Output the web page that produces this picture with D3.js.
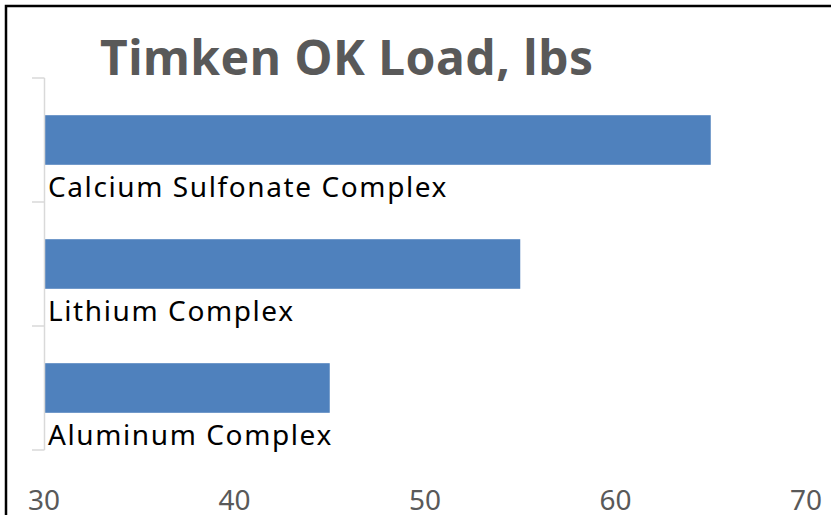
<!DOCTYPE html>
<html>
<head>
<meta charset="utf-8">
<script src="https://cdn.jsdelivr.net/npm/d3@7"></script>
<style>
  body { margin: 0; background: #fff; }
  text { font-family: "Noto Sans", "Open Sans", sans-serif; }
</style>
</head>
<body>
<svg class="chart"></svg>
<script>
var categories = ["Calcium Sulfonate Complex", "Lithium Complex", "Aluminum Complex"];
var values = [65, 55, 45];
var xTicks = [30, 40, 50, 60, 70];

var width = 831, height = 515;

var svg = d3.select(".chart")
    .attr("width", width)
    .attr("height", height);

// outer chart border (runs off right and bottom)
svg.append("rect")
    .attr("x", 6).attr("y", 6)
    .attr("width", width + 20).attr("height", height + 20)
    .attr("fill", "#fff")
    .attr("stroke", "#000")
    .attr("stroke-width", 2.5);

var x = d3.scaleLinear()
    .domain([30, 70])
    .range([44, 806]);

var y = d3.scaleBand()
    .domain(categories)
    .range([78, 450])
    .paddingInner(0.6)
    .paddingOuter(0.3);

// bars
svg.selectAll(".bar")
    .data(categories)
  .enter().append("rect")
    .attr("class", "bar")
    .attr("x", x(30))
    .attr("y", function(d) { return y(d); })
    .attr("width", function(d, i) { return x(values[i]) - x(30); })
    .attr("height", y.bandwidth())
    .attr("fill", "#4F81BD");

// y axis line with ticks on the left
var step = (450 - 78) / categories.length;
var yTicks = d3.range(categories.length + 1).map(function(i) { return 78 + i * step; });
svg.append("line")
    .attr("x1", 44.5).attr("x2", 44.5)
    .attr("y1", 78).attr("y2", 450)
    .attr("stroke", "#d9d9d9").attr("stroke-width", 1.5);
svg.selectAll(".ytick")
    .data(yTicks)
  .enter().append("line")
    .attr("class", "ytick")
    .attr("x1", 32).attr("x2", 44.5)
    .attr("y1", function(d) { return d; })
    .attr("y2", function(d) { return d; })
    .attr("stroke", "#d9d9d9").attr("stroke-width", 1.5);

// category labels below each bar
svg.selectAll(".cat-label")
    .data(categories)
  .enter().append("text")
    .attr("class", "cat-label")
    .attr("x", 48)
    .attr("y", function(d) { return y(d) + y.bandwidth() + 32; })
    .attr("font-size", 28)
    .attr("letter-spacing", 1.6)
    .attr("fill", "#000")
    .text(function(d) { return d; });

// x tick labels
svg.selectAll(".xtick")
    .data(xTicks)
  .enter().append("text")
    .attr("class", "xtick")
    .attr("x", function(d) { return x(d); })
    .attr("y", 510)
    .attr("text-anchor", "middle")
    .attr("font-size", 28)
    .attr("fill", "#595959")
    .text(function(d) { return d; });

svg.append("text")
    .attr("x", 100)
    .attr("y", 75)
    .attr("font-size", 48)
    .attr("font-weight", "bold")
    .attr("letter-spacing", 0.5)
    .attr("fill", "#595959")
    .text("Timken OK Load, lbs");
</script>
</body>
</html>
